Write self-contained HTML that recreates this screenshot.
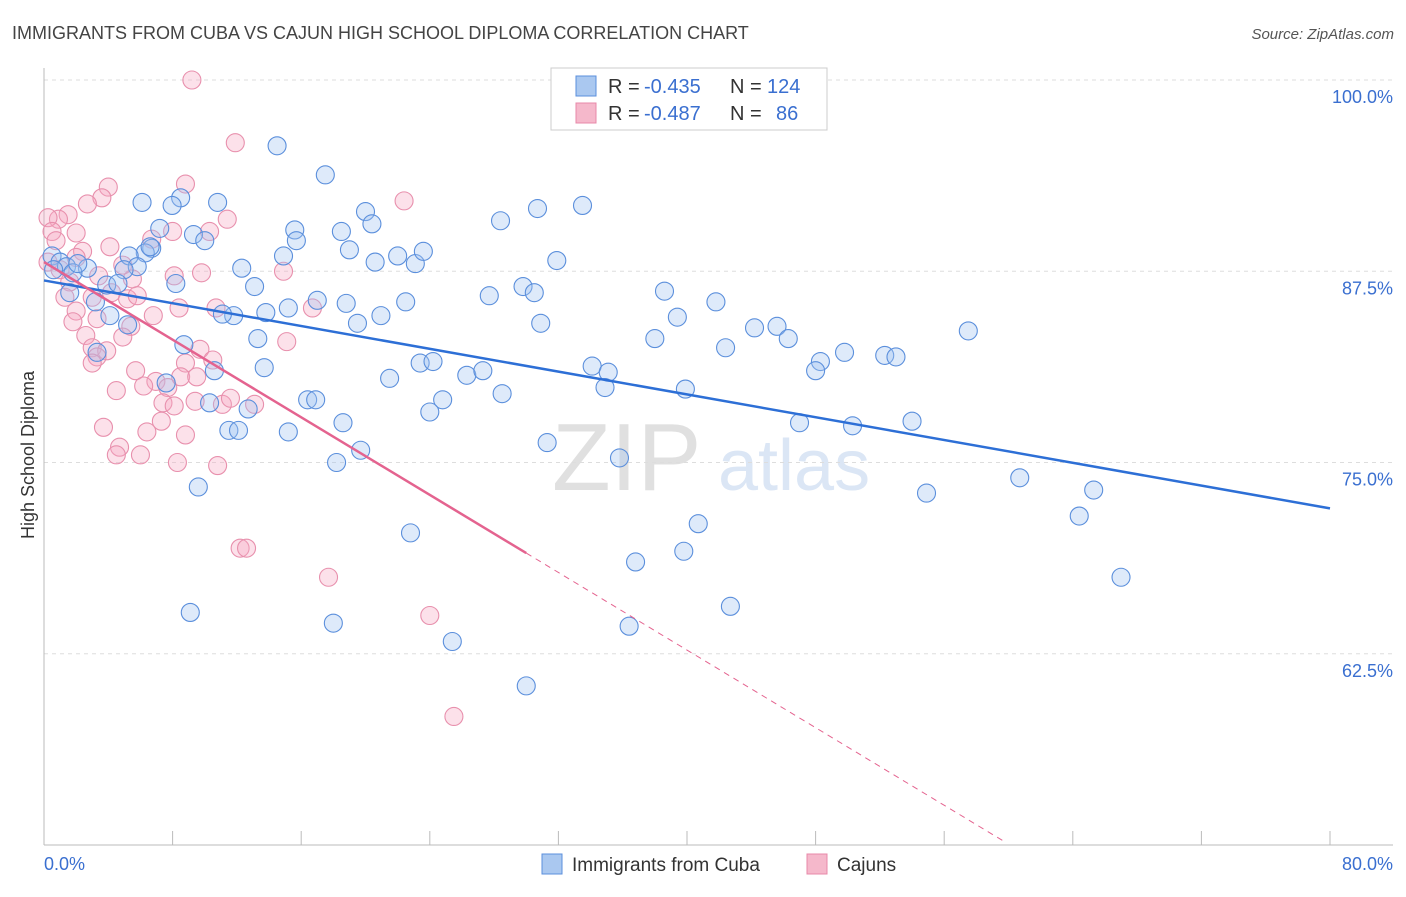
<!DOCTYPE html>
<html><head><meta charset="utf-8"><style>
body{margin:0;background:#fff;font-family:"Liberation Sans",sans-serif;}
svg text{font-family:"Liberation Sans",sans-serif;}
</style></head><body>
<svg id="chart" width="1406" height="892" xmlns="http://www.w3.org/2000/svg">
<text x="12" y="39" font-size="18" fill="#444">IMMIGRANTS FROM CUBA VS CAJUN HIGH SCHOOL DIPLOMA CORRELATION CHART</text>
<text x="1394" y="39" font-size="15" fill="#555" text-anchor="end" font-style="italic">Source: ZipAtlas.com</text>
<g>
<text x="552" y="490" font-size="96" fill="#e0e0e0" font-family="Liberation Serif,serif">ZIP</text>
<text x="718" y="490" font-size="72" fill="#dbe6f5">atlas</text>
</g>
<g id="grid"></g>
<g id="axes"></g>
<text transform="translate(34,455) rotate(-90)" font-size="18" fill="#333" text-anchor="middle">High School Diploma</text>
<g id="pts"></g>
<g id="lines"></g>
<g>
<rect x="551" y="68" width="276" height="62" fill="#fff" stroke="#ccc"/>
<rect x="576" y="76" width="20" height="20" fill="#aac8f0" stroke="#5b8fdc"/>
<rect x="576" y="103" width="20" height="20" fill="#f5b8cb" stroke="#e888a8"/>
<text x="608" y="93" font-size="20" fill="#333">R =</text>
<text x="644" y="93" font-size="20" fill="#3a6fd0">-0.435</text>
<text x="730" y="93" font-size="20" fill="#333">N =</text>
<text x="767" y="93" font-size="20" fill="#3a6fd0">124</text>
<text x="608" y="120" font-size="20" fill="#333">R =</text>
<text x="644" y="120" font-size="20" fill="#3a6fd0">-0.487</text>
<text x="730" y="120" font-size="20" fill="#333">N =</text>
<text x="776" y="120" font-size="20" fill="#3a6fd0">86</text>
</g>
<g>
<rect x="542" y="854" width="20" height="20" fill="#aac8f0" stroke="#5b8fdc"/>
<text x="572" y="871" font-size="19" fill="#333">Immigrants from Cuba</text>
<rect x="807" y="854" width="20" height="20" fill="#f5b8cb" stroke="#e888a8"/>
<text x="837" y="871" font-size="19" fill="#333">Cajuns</text>
</g>
</svg>
<script>
const yTicks=[100,87.5,75,62.5];
const yTickLabels=["100.0%","87.5%","75.0%","62.5%"];
const xTickLabels=["0.0%","80.0%"];
const blueX=[14.5,17.5,6.1,8.5,10.8,7.97,7.2,9.3,10.0,15.6,15.7,20.0,20.4,18.5,19.0,20.6,22.0,23.1,23.6,14.9,28.4,30.7,33.5,31.9,6.7,6.3,5.3,5.8,4.98,12.3,13.1,17.0,15.2,18.8,22.5,20.96,19.5,13.8,11.8,11.1,27.7,29.8,30.5,30.9,38.6,39.4,41.8,38.0,42.4,44.2,45.6,46.3,49.8,48.3,48.0,52.3,53.0,57.5,13.3,8.7,10.6,13.7,21.5,23.4,24.2,26.3,27.3,28.5,34.1,35.1,34.9,39.9,24.8,24.0,16.4,16.9,18.6,12.7,10.3,11.5,12.1,15.2,47.0,50.3,54.0,31.3,35.8,19.7,18.2,9.6,54.9,60.7,65.3,64.4,40.7,39.8,22.8,36.8,67.0,9.1,42.7,18.0,36.4,25.4,30.0,7.6,4.1,3.3,5.2,3.2,3.9,4.6,1.6,2.7,0.5,1.0,1.4,1.8,0.6,2.1,8.2,6.6];
const blueY=[95.7,93.8,92.0,92.3,92.0,91.8,90.3,89.9,89.5,90.2,89.5,91.4,90.6,90.1,88.9,88.1,88.5,88.0,88.8,88.5,90.8,91.6,91.8,88.2,89.0,88.7,88.5,87.8,87.6,87.7,86.5,85.6,85.1,85.4,85.5,84.6,84.1,84.8,84.6,84.7,85.9,86.5,86.1,84.1,86.2,84.5,85.5,83.1,82.5,83.8,83.9,83.1,82.2,81.6,81.0,82.0,81.9,83.6,83.1,82.7,81.0,81.2,80.5,81.5,81.6,80.7,81.0,79.5,81.3,80.9,79.9,79.8,79.1,78.3,79.1,79.1,77.6,78.5,78.9,77.1,77.1,77.0,77.6,77.4,77.7,76.3,75.3,75.8,75.0,73.4,73.0,74.0,73.2,71.5,71.0,69.2,70.4,68.5,67.5,65.2,65.6,64.5,64.3,63.3,60.4,80.2,84.6,82.2,84.0,85.5,86.6,86.7,86.1,87.7,88.5,88.1,87.8,87.4,87.6,88.0,86.7,89.1];
const pinkX=[9.2,11.9,8.8,4.0,3.6,22.4,11.4,10.3,8.0,2.7,1.5,0.9,0.25,0.5,2.0,0.75,4.1,2.4,6.7,0.25,1.0,1.6,8.1,9.8,14.9,5.5,4.2,3.0,2.0,1.8,3.3,5.2,5.8,6.8,8.4,10.7,16.7,5.4,4.9,2.6,15.1,3.0,3.9,3.3,3.0,9.7,10.5,8.8,5.7,6.96,7.7,8.5,9.5,4.5,6.2,7.4,8.1,9.4,11.1,11.6,13.1,7.3,3.7,6.4,8.8,4.7,4.5,6.0,8.3,10.8,12.2,12.6,17.7,24.0,25.5,3.4,1.3,2.0,4.9];
const pinkY=[100,95.9,93.2,93.0,92.3,92.1,90.9,90.1,90.1,91.9,91.2,90.9,91.0,90.1,90.0,89.5,89.1,88.8,89.6,88.1,87.6,86.8,87.2,87.4,87.5,87.0,86.1,85.8,84.9,84.2,84.4,85.7,85.9,84.6,85.1,85.1,85.1,83.9,83.2,83.3,82.9,82.5,82.3,81.9,81.5,82.4,81.7,81.5,81.0,80.3,79.9,80.6,80.6,79.7,80.0,78.9,78.7,79.0,78.8,79.2,78.8,77.7,77.3,77.0,76.8,76.0,75.5,75.5,75.0,74.8,69.4,69.4,67.5,65.0,58.4,87.2,85.8,88.4,87.9];
const blueTrend=[86.9,72.0];
const pinkTrend=[88.1,-0.634];
const X0=44,X1=1330,Y0=80,Y1=845;
const sx=v=>X0+(v/80)*(X1-X0);
const sy=v=>Y0+(100-v)/50*(Y1-Y0);
const NS="http://www.w3.org/2000/svg";
function mk(tag,attrs,parent){const e=document.createElementNS(NS,tag);for(const k in attrs)e.setAttribute(k,attrs[k]);parent.appendChild(e);return e;}
const grid=document.getElementById('grid'),axes=document.getElementById('axes'),pts=document.getElementById('pts'),lines=document.getElementById('lines');
yTicks.forEach((t,i)=>{
 const l=mk('line',{x1:X0,x2:1393,y1:sy(t),y2:sy(t),stroke:'#ddd','stroke-dasharray':'4,4'},grid);
 
 
 const tx=mk('text',{x:1393,y:sy(t)+23,'font-size':18,fill:'#3a6fd0','text-anchor':'end'},axes);
 tx.textContent=yTickLabels[i];
 
 
});
const ya=mk('line',{x1:X0,x2:X0,y1:68,y2:Y1,stroke:'#bbb'},axes);


const xa=mk('line',{x1:X0,x2:1393,y1:Y1,y2:Y1,stroke:'#bbb'},axes);


for(let i=0;i<=10;i++){
 const t=mk('line',{x1:sx(i*8),x2:sx(i*8),y1:Y1,y2:Y1-14,stroke:'#bbb'},axes);
 
 
}
const xl0=mk('text',{x:44,y:870,'font-size':18,fill:'#3a6fd0'},axes);xl0.textContent=xTickLabels[0];


const xl1=mk('text',{x:1393,y:870,'font-size':18,fill:'#3a6fd0','text-anchor':'end'},axes);xl1.textContent=xTickLabels[1];


pinkX.forEach((x,i)=>{
 const c=mk('circle',{cx:sx(x),cy:sy(pinkY[i]),r:9,fill:'rgba(245,170,195,0.35)',stroke:'#e890ad','stroke-width':1.1},pts);
 
 
});
blueX.forEach((x,i)=>{
 const c=mk('circle',{cx:sx(x),cy:sy(blueY[i]),r:9,fill:'rgba(160,195,240,0.35)',stroke:'#5b8fdc','stroke-width':1.1},pts);
 
 
});
const bl=mk('line',{x1:sx(0),y1:sy(blueTrend[0]),x2:sx(80),y2:sy(blueTrend[1]),stroke:'#2d6fd6','stroke-width':2.5},lines);


const pv=x=>pinkTrend[0]+pinkTrend[1]*x;
const pl=mk('line',{x1:sx(0),y1:sy(pv(0)),x2:sx(30),y2:sy(pv(30)),stroke:'#e4638f','stroke-width':2.5},lines);


const pd=mk('line',{x1:sx(30),y1:sy(pv(30)),x2:sx(59.8),y2:sy(pv(59.8)),stroke:'#e4638f','stroke-width':1,'stroke-dasharray':'6,5'},lines);


</script>
</body></html>
